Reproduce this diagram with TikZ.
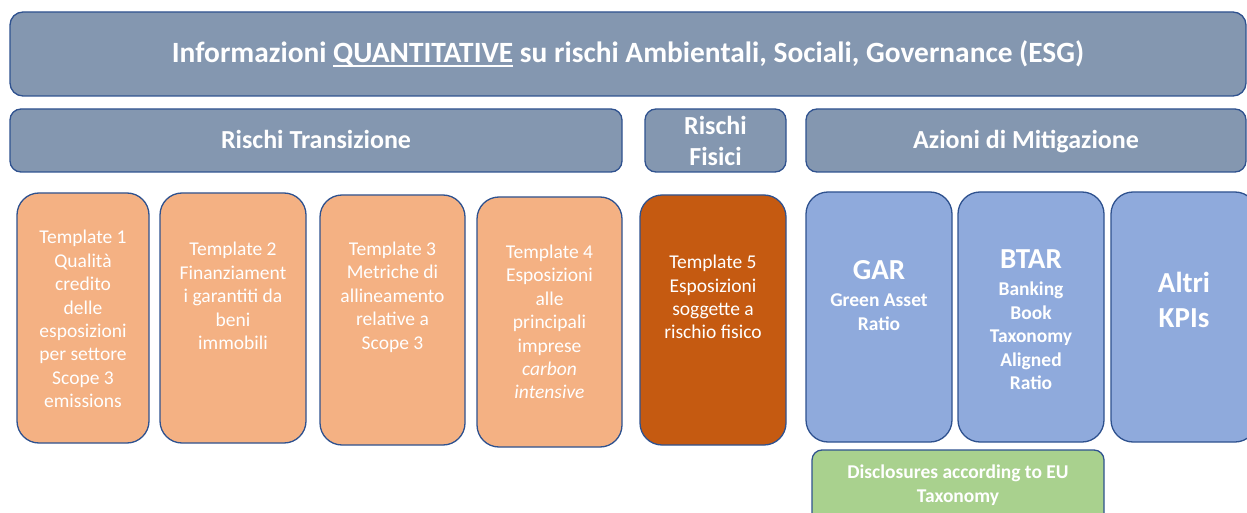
\documentclass[tikz,border=0pt]{standalone}
\usepackage{fontspec}
\setmainfont{Carlito}
\definecolor{hdrfill}{HTML}{8497B0}
\definecolor{edge}{HTML}{2F528F}
\definecolor{orfill}{HTML}{F4B183}
\definecolor{darkor}{HTML}{C55A11}
\definecolor{blfill}{HTML}{8FAADC}
\definecolor{grfill}{HTML}{A9D18E}
\newcommand\myul[1]{\setbox0\hbox{#1}\rlap{\rule[-3.6pt]{\wd0}{1.4pt}}\box0\relax}
\tikzset{
  base/.style={draw=edge, line width=1.3pt, inner sep=0pt},
  hdrbox/.style={base, fill=hdrfill, rounded corners=13pt},
  tplbox/.style={base, fill=orfill, rounded corners=22pt},
  tpl5box/.style={base, fill=darkor, rounded corners=22pt},
  kpibox/.style={base, fill=blfill, rounded corners=22pt},
  grbox/.style={base, fill=grfill, rounded corners=10pt},
  hdrtxt/.style={text=white, font=\fontsize{26}{31.7}\selectfont\bfseries, align=center, inner sep=0pt},
  titletxt/.style={text=white, font=\fontsize{29.4}{35}\selectfont\bfseries, inner sep=0pt},
  tpltxt/.style={text=white, font=\fontsize{19.5}{23.4}\selectfont, align=center, inner sep=0pt},
  kpitxt/.style={text=white, font=\fontsize{19.5}{23.5}\selectfont\bfseries, align=center, inner sep=0pt},
  bigtxt/.style={text=white, font=\fontsize{29}{34.5}\selectfont\bfseries, align=center, inner sep=0pt},
}
\begin{document}
\begin{tikzpicture}[x=1pt,y=-1pt]
\clip (0,0) rectangle (1247,513);
\fill[white] (0,0) rectangle (1247,513);
% header
\node[hdrbox, minimum width=1236, minimum height=84] (head) at (628,54) {};
\node[titletxt, anchor=base] (headt) at (628,63) {Informazioni \myul{QUANTITATIVE} su rischi Ambientali, Sociali, Governance (ESG)};
% row 2
\node[hdrbox, rounded corners=11pt, minimum width=612, minimum height=63] (trans) at (316,140.5) {};
\node[hdrtxt, anchor=base] (transt) at (316,149) {Rischi Transizione};
\node[hdrbox, rounded corners=11pt, minimum width=141, minimum height=63] (fis) at (715.5,140.5) {};
\node[hdrtxt] (fist) at (715.5,141) {Rischi\\Fisici};
\node[hdrbox, rounded corners=11pt, minimum width=440, minimum height=63] (mit) at (1026,140.5) {};
\node[hdrtxt, anchor=base] (mitt) at (1026,149) {Azioni di Mitigazione};
% templates
\node[tplbox, minimum width=132, minimum height=250] (t1) at (83,318) {};
\node[tpltxt] (t1t) at (83,319) {Template 1\\Qualità\\credito\\delle\\esposizioni\\per settore\\Scope 3\\emissions};
\node[tplbox, minimum width=146, minimum height=250] (t2) at (233,318) {};
\node[tpltxt] (t2t) at (233,296) {Template 2\\Finanziament\\i garantiti da\\beni\\immobili};
\node[tplbox, minimum width=145, minimum height=250] (t3) at (392.5,320) {};
\node[tpltxt] (t3t) at (392.5,297) {Template 3\\Metriche di\\allineamento\\relative a\\Scope 3};
\node[tplbox, minimum width=145, minimum height=250] (t4) at (549.5,322) {};
\node[tpltxt] (t4t) at (549.5,322) {Template 4\\Esposizioni\\alle\\principali\\imprese\\\textit{carbon}\\\textit{intensive}};
\node[tpl5box, minimum width=146, minimum height=250] (t5) at (713,320) {};
\node[tpltxt] (t5t) at (713,297) {Template 5\\Esposizioni\\soggette a\\rischio fisico};
% KPIs
\node[kpibox, minimum width=146, minimum height=250] (gar) at (879,317) {};
\node[bigtxt] (gart) at (879,270) {GAR};
\node[kpitxt] (gars) at (879,312) {Green Asset\\Ratio};
\node[kpibox, minimum width=146, minimum height=250] (btar) at (1031,317) {};
\node[bigtxt] (btart) at (1031,259) {BTAR};
\node[kpitxt] (btars) at (1031,336) {Banking\\Book\\Taxonomy\\Aligned\\Ratio};
\node[kpibox, minimum width=146, minimum height=250] (altri) at (1184,317) {};
\node[bigtxt] (altrit) at (1184,300) {Altri\\KPIs};
% green
\node[grbox, minimum width=292, minimum height=80] (disc) at (958,490) {};
\node[kpitxt] (disct) at (958,485) {Disclosures according to EU\\Taxonomy};
\end{tikzpicture}
\end{document}
